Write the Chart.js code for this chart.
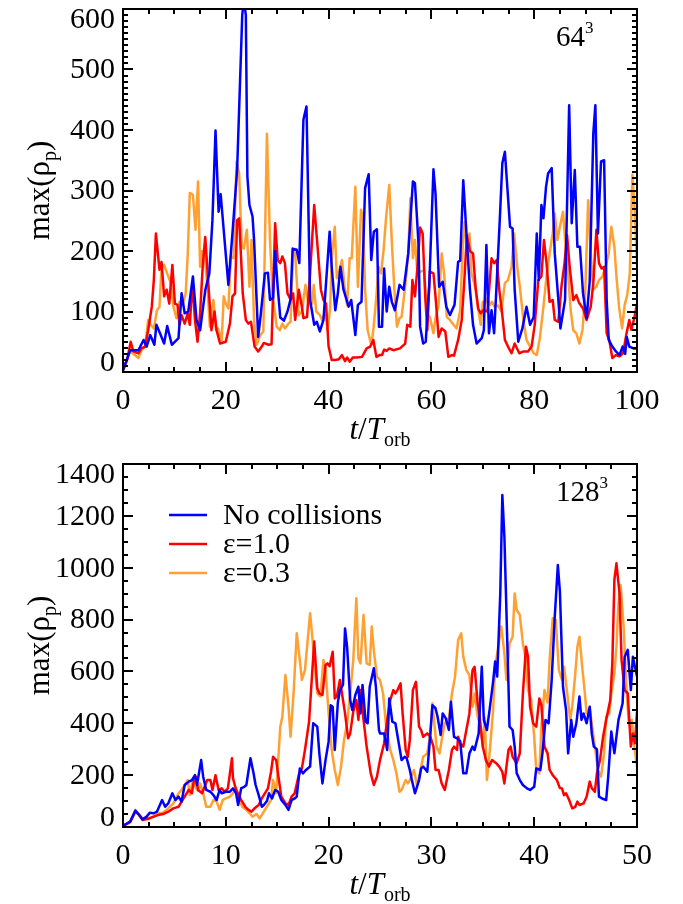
<!DOCTYPE html>
<html>
<head>
<meta charset="utf-8">
<script src="https://cdn.jsdelivr.net/npm/chart.js@4.4.1/dist/chart.umd.min.js"></script>
<style>
  html, body { margin: 0; padding: 0; background: #fff; }
  #wrap { position: relative; width: 683px; height: 904px; }
  .panel { position: absolute; left: 0; width: 683px; height: 452px; }
</style>
</head>
<body>
<div id="wrap">
  <div class="panel" style="top:0"><canvas id="chart64"></canvas></div>
  <div class="panel" style="top:452px"><canvas id="chart128"></canvas></div>
</div>
<script>

// ======================
// DATA  [t/Torb, max(rho_p)]
// ======================

const seriesLabels = ["No collisions", "ε=1.0", "ε=0.3"];

const blue64 = [[0,3],[1.4,36],[3,36],[4,53],[4.6,42],[5.3,61],[6.1,45],[6.5,78],[7.2,64],[8,47],[8.6,76],[9.5,45],[10.8,56],[11.4,130],[12,97],[12.7,100],[13.6,158],[14.3,86],[15,69],[16,135],[16.8,163],[17.4,251],[18,399],[18.6,265],[19,294],[20.5,144],[21.3,230],[22.2,334],[23.2,590],[23.5,615],[23.9,590],[24.2,323],[24.6,276],[25.2,257],[25.5,218],[26.3,58],[26.8,95],[27.6,163],[28.2,164],[28.6,119],[29.2,122],[29.6,200],[30.1,140],[30.6,90],[31.3,85],[32,100],[32.6,120],[33,204],[33.8,202],[34.3,180],[35.1,417],[35.7,439],[36.4,119],[37.2,78],[37.7,83],[38.3,67],[39,86],[40.2,232],[40.6,174],[41.3,102],[41.8,130],[42.3,174],[42.9,136],[43.9,108],[44.4,119],[45.2,61],[45.7,111],[46.4,116],[47.1,304],[47.8,327],[48.3,185],[48.8,232],[49.4,236],[49.8,75],[50.4,75],[50.8,171],[51.3,100],[51.8,141],[52.3,116],[52.9,102],[53.8,144],[54.6,136],[55.5,196],[56.4,315],[56.8,312],[57.5,210],[57.8,75],[58.4,47],[58.9,50],[59.6,147],[60.4,335],[60.8,295],[61.5,141],[62.2,149],[62.9,108],[63.6,94],[64.5,111],[65.2,182],[65.6,184],[66.2,317],[66.7,246],[67.5,136],[68.1,78],[68.8,47],[69.8,56],[70.2,69],[70.7,210],[71.2,64],[71.7,102],[72.2,64],[72.7,147],[73.3,251],[73.8,345],[74.3,364],[75.3,240],[75.8,237],[76.2,136],[76.9,50],[77.7,72],[78.5,108],[79.2,78],[79.9,91],[80.5,229],[80.9,152],[81.4,276],[81.8,254],[82.3,306],[82.7,328],[83.4,337],[84,196],[84.7,119],[85.1,72],[86,119],[86.8,441],[87.3,246],[87.9,334],[88.4,207],[88.9,207],[89.5,130],[90.2,89],[90.8,150],[91.5,394],[91.9,441],[92.4,229],[93,348],[93.6,350],[94.1,119],[94.5,53],[95.2,42],[95.9,34],[96.6,28],[97.2,42],[97.7,30],[98,58],[98.5,42],[99.3,39],[100,39]];

const red64 = [[0,3],[0.8,20],[1.5,50],[2,34],[3,31],[3.6,39],[4.3,42],[4.9,69],[5.6,108],[6,152],[6.4,229],[7.1,169],[7.5,182],[8,125],[8.5,136],[9,113],[9.6,177],[10.1,113],[10.6,111],[11,78],[11.4,94],[12,80],[12.6,97],[13,78],[13.5,149],[14,86],[14.5,50],[15,97],[15.5,174],[16,223],[16.6,147],[17.2,69],[17.8,100],[18.2,69],[18.9,47],[20,50],[20.8,80],[21.3,125],[21.8,130],[22.2,251],[22.6,254],[23.3,130],[23.9,86],[24.4,80],[24.9,83],[25.6,42],[26.3,34],[27,42],[27.4,48],[28.3,45],[28.9,46],[29.6,246],[30.1,185],[30.6,180],[31,191],[31.5,180],[32,130],[32.6,120],[33.1,130],[33.5,86],[34.2,136],[34.8,108],[35.1,89],[35.8,91],[36.4,163],[37.2,276],[37.9,202],[38.5,136],[39,119],[39.5,113],[40,42],[40.6,20],[41.3,20],[42,21],[42.6,28],[43.2,18],[43.6,24],[44.1,17],[44.7,24],[45.5,24],[46.5,25],[47.4,39],[48.1,42],[48.7,53],[49.3,25],[49.9,28],[50.4,28],[50.8,37],[51.3,35],[51.8,39],[52.6,36],[53.9,39],[54.9,47],[55.3,78],[55.9,75],[56.3,152],[56.8,125],[57.3,174],[57.8,239],[58.3,229],[58.8,125],[59.2,69],[59.7,166],[60.4,163],[60.8,125],[61.4,58],[62,72],[62.7,67],[63.3,25],[64,28],[64.4,27],[65.2,53],[65.9,86],[66.4,150],[66.9,226],[67.5,200],[68.1,196],[68.6,140],[69.1,105],[69.6,97],[70.1,102],[70.9,100],[71.7,188],[72.2,180],[72.7,185],[73.2,136],[73.7,102],[74.3,53],[74.9,42],[75.6,31],[76.2,47],[77.1,31],[77.9,34],[78.8,34],[79.5,42],[80.1,78],[80.8,152],[81.4,158],[81.9,218],[82.4,180],[83,116],[83.6,119],[84,86],[84.7,83],[85.3,141],[85.9,180],[86.4,226],[86.9,174],[87.6,119],[88.2,127],[88.7,115],[89.5,105],[90.2,86],[91,108],[91.5,147],[92.1,235],[92.6,180],[93.1,171],[93.6,174],[94.1,64],[94.6,53],[95.2,23],[95.9,28],[96.6,26],[97.3,31],[97.9,61],[98.5,86],[98.9,70],[99.5,90],[100,113]];

const orange64 = [[0,2],[1.4,34],[2.3,28],[3,23],[3.6,36],[4.3,42],[4.9,86],[5.4,78],[6,72],[6.6,102],[7.1,108],[7.5,174],[8,177],[8.8,158],[9.3,147],[9.8,108],[10.4,89],[11,116],[11.6,111],[12.2,130],[12.6,196],[13,296],[13.6,293],[14.1,235],[14.6,315],[15,174],[15.4,200],[15.9,191],[16.4,144],[16.9,75],[17.6,119],[18.1,69],[18.5,72],[19.2,53],[19.6,125],[20,113],[20.5,105],[21,191],[21.5,188],[22.1,348],[22.6,328],[23.1,207],[23.5,204],[24.1,235],[24.6,141],[25,218],[25.5,86],[26,45],[26.7,61],[27.3,67],[28,394],[28.6,218],[29.1,130],[29.9,75],[30.5,69],[31,80],[31.5,72],[32.2,80],[32.6,83],[33.1,202],[33.5,196],[34.2,94],[34.8,100],[35.5,144],[36.1,110],[36.8,113],[37.1,144],[37.6,100],[38.3,94],[38.7,86],[39.4,100],[39.8,69],[40.3,105],[40.6,185],[41.2,240],[41.6,155],[42.1,168],[42.6,185],[43.1,141],[43.6,110],[44.1,188],[44.5,188],[45.2,306],[45.7,141],[46.3,268],[46.7,257],[47.1,136],[47.6,69],[48.3,45],[48.7,69],[49.3,125],[49.7,174],[50.2,163],[50.7,202],[51.2,257],[51.8,309],[52.3,215],[52.8,136],[53.3,75],[53.8,89],[54.2,91],[54.9,141],[55.5,196],[55.9,287],[56.4,188],[56.8,218],[57.3,163],[57.9,166],[58.6,168],[59.1,97],[59.7,91],[60.4,64],[60.8,89],[61.4,110],[62,196],[62.5,160],[63,91],[63.6,86],[64.3,78],[64.9,72],[65.6,102],[66.1,207],[66.5,248],[67,200],[67.4,229],[67.8,163],[68.5,141],[69.1,105],[69.6,78],[70,116],[70.4,113],[70.9,122],[71.4,111],[71.8,116],[72.3,108],[73,110],[73.6,100],[74.3,147],[74.9,152],[75.6,174],[76.1,229],[76.7,174],[77.2,141],[77.9,86],[78.5,53],[79.2,42],[79.9,31],[80.5,28],[81.1,56],[81.8,108],[82.4,158],[83,196],[83.6,229],[84,262],[84.5,218],[85,240],[85.6,265],[86.2,196],[86.6,163],[87.1,102],[87.6,69],[88.2,64],[88.8,47],[89.4,70],[89.9,125],[90.5,284],[91,196],[91.5,136],[92.1,141],[92.6,152],[93.3,158],[93.9,174],[94.5,196],[95,240],[95.6,207],[96,158],[96.5,108],[97.1,72],[97.6,111],[98.1,127],[98.6,163],[99.1,326],[99.6,262],[100,174]];

const blue128 = [[0,4],[0.7,21],[1.2,63],[1.5,50],[1.9,30],[2.3,40],[2.6,55],[3,53],[3.3,59],[3.8,104],[4.1,78],[4.4,91],[4.8,130],[5.1,104],[5.4,117],[5.7,98],[6,162],[6.4,175],[6.7,181],[7,200],[7.2,162],[7.6,258],[7.8,194],[8.1,143],[8.5,136],[8.8,123],[9.1,104],[9.4,143],[9.6,130],[10,136],[10.4,136],[10.7,149],[11,130],[11.2,85],[11.5,150],[11.8,155],[12,162],[12.4,265],[12.7,207],[12.9,162],[13.2,123],[13.5,78],[13.7,85],[14,100],[14.2,130],[14.5,110],[14.8,143],[15.1,136],[15.4,104],[15.8,85],[16.1,66],[16.4,104],[16.7,110],[16.9,117],[17.2,226],[17.5,207],[17.8,220],[18.2,233],[18.5,400],[18.9,387],[19.1,284],[19.4,168],[19.7,258],[20,329],[20.2,470],[20.4,464],[20.6,297],[20.9,480],[21.1,528],[21.4,548],[21.6,766],[21.8,695],[22.1,490],[22.3,451],[22.6,509],[22.9,541],[23.1,438],[23.3,548],[23.6,406],[23.8,400],[24,541],[24.4,612],[24.6,541],[24.9,374],[25,361],[25.4,361],[25.7,297],[25.9,496],[26.2,406],[26.5,400],[26.8,329],[27.1,258],[27.4,271],[27.6,265],[27.9,220],[28.1,181],[28.4,130],[28.8,181],[29,226],[29.2,233],[29.6,213],[29.9,361],[30.1,470],[30.4,458],[30.6,425],[30.9,355],[31.1,438],[31.4,419],[31.7,374],[31.9,483],[32.2,348],[32.5,342],[32.8,330],[33.1,207],[33.4,207],[33.7,284],[34,310],[34.2,297],[34.6,361],[34.9,618],[35.1,413],[35.4,374],[35.7,464],[36,560],[36.2,638],[36.4,580],[36.7,900],[36.9,1280],[37.1,1120],[37.5,541],[37.6,387],[37.9,374],[38.1,310],[38.3,207],[38.6,181],[38.9,162],[39.3,149],[39.6,143],[40,155],[40.2,226],[40.6,220],[40.8,284],[41.1,413],[41.4,400],[41.7,567],[42,811],[42.3,1010],[42.5,908],[42.8,541],[43.1,451],[43.3,284],[43.6,413],[43.8,348],[44.1,400],[44.4,503],[44.6,413],[44.8,438],[45.1,400],[45.4,464],[45.6,360],[45.8,310],[46.1,300],[46.3,117],[46.6,110],[47,104],[47.2,194],[47.5,368],[47.8,284],[48.2,413],[48.6,477],[48.8,657],[49.1,683],[49.4,528],[49.6,657],[50,580]];

const red128 = [[0,4],[0.7,20],[1.2,59],[1.5,50],[1.9,27],[2.5,33],[3,40],[3.4,46],[3.9,50],[4.4,59],[4.9,72],[5.4,78],[5.7,98],[6,117],[6.4,143],[6.7,130],[6.9,181],[7.1,194],[7.3,143],[7.7,130],[8,162],[8.2,181],[8.5,181],[8.7,143],[9,200],[9.3,143],[9.6,149],[9.9,136],[10.2,149],[10.6,265],[10.7,188],[11,143],[11.3,120],[11.5,104],[11.9,78],[12.2,66],[12.5,59],[12.8,72],[13.2,85],[13.5,110],[13.8,130],[14.1,149],[14.4,213],[14.6,271],[14.9,258],[15.1,200],[15.4,117],[15.8,91],[16.1,85],[16.4,117],[16.7,130],[17.1,200],[17.4,226],[17.7,297],[18.1,406],[18.4,593],[18.6,715],[18.9,535],[19.1,515],[19.4,509],[19.7,625],[19.9,631],[20.1,620],[20.4,676],[20.6,496],[20.8,503],[21.1,567],[21.4,490],[21.6,438],[21.9,342],[22.1,361],[22.4,445],[22.7,490],[22.9,413],[23.1,528],[23.4,413],[23.7,310],[24.1,207],[24.4,162],[24.7,194],[25,258],[25.4,323],[25.7,413],[26,490],[26.3,528],[26.5,515],[26.7,528],[27,554],[27.2,438],[27.5,297],[27.7,271],[27.9,335],[28.2,528],[28.5,560],[28.8,387],[29,374],[29.2,348],[29.6,361],[29.9,348],[30.2,310],[30.4,220],[30.7,220],[31,168],[31.3,143],[31.7,220],[32,297],[32.2,310],[32.5,297],[32.6,348],[32.8,323],[33.1,310],[33.4,374],[33.7,438],[34,605],[34.2,618],[34.5,477],[34.7,425],[35,310],[35.3,258],[35.6,233],[35.9,258],[36.3,246],[36.6,233],[36.9,213],[37.1,168],[37.5,297],[37.7,310],[37.9,271],[38.3,246],[38.6,284],[38.9,515],[39.2,695],[39.4,657],[39.6,464],[39.9,400],[40.2,387],[40.5,496],[40.7,470],[41,310],[41.3,284],[41.5,220],[41.8,200],[42.2,181],[42.5,150],[42.7,149],[42.9,123],[43.1,130],[43.4,104],[43.7,72],[44,78],[44.2,98],[44.4,85],[44.8,91],[45.1,117],[45.4,175],[45.6,150],[45.9,136],[46.1,207],[46.4,258],[46.7,348],[47,413],[47.4,490],[47.6,631],[47.8,953],[48,1017],[48.3,901],[48.5,644],[48.8,528],[49.1,515],[49.4,310],[49.6,361],[49.8,323],[50,445]];

const orange128 = [[0,4],[0.7,18],[1.2,66],[1.5,50],[1.9,33],[2.5,30],[3,42],[3.4,53],[3.9,55],[4.4,72],[4.9,91],[5.4,130],[5.7,143],[6,162],[6.3,181],[6.5,123],[6.8,181],[7.1,150],[7.3,140],[7.5,168],[7.8,130],[8.1,78],[8.5,78],[8.8,104],[9.1,100],[9.4,66],[9.7,104],[10,110],[10.4,117],[10.7,130],[11,149],[11.3,104],[11.6,78],[12,66],[12.3,53],[12.6,40],[13,50],[13.3,33],[13.7,59],[14,78],[14.4,104],[14.6,181],[14.9,130],[15.3,387],[15.5,425],[15.8,586],[16.1,464],[16.3,348],[16.6,520],[16.9,747],[17.2,644],[17.4,567],[17.7,605],[18.2,824],[18.4,740],[18.7,600],[18.9,515],[19.2,503],[19.5,644],[19.7,612],[20,438],[20.3,297],[20.6,220],[20.9,162],[21.2,230],[21.5,335],[21.8,400],[22.1,515],[22.4,644],[22.7,882],[22.9,650],[23.1,631],[23.4,818],[23.7,631],[24,625],[24.2,773],[24.4,680],[24.7,580],[25,567],[25.3,515],[25.6,387],[26,297],[26.3,258],[26.6,207],[26.9,136],[27.1,143],[27.5,181],[27.7,168],[27.9,181],[28.3,220],[28.6,160],[28.9,210],[29.2,271],[29.6,284],[29.9,361],[30.1,477],[30.5,310],[30.8,284],[31,335],[31.3,400],[31.7,419],[32,515],[32.3,580],[32.6,721],[32.9,747],[33.1,657],[33.4,605],[33.7,586],[34,464],[34.2,515],[34.5,425],[34.7,400],[35,310],[35.2,420],[35.4,181],[35.7,300],[36,450],[36.2,618],[36.5,695],[36.8,773],[37.1,670],[37.3,567],[37.6,708],[37.9,734],[38.1,901],[38.3,837],[38.6,818],[38.9,708],[39.2,644],[39.4,528],[39.7,490],[40,348],[40.2,220],[40.5,207],[40.7,387],[41,528],[41.3,480],[41.5,644],[41.8,805],[42.1,798],[42.4,605],[42.7,567],[42.9,618],[43.2,520],[43.5,413],[43.7,464],[44,593],[44.2,695],[44.4,734],[44.7,605],[44.9,528],[45.1,438],[45.4,458],[45.6,400],[45.9,310],[46.2,220],[46.5,194],[46.8,284],[47,425],[47.3,438],[47.5,515],[47.8,593],[48,695],[48.2,863],[48.4,933],[48.7,773],[49,515],[49.2,400],[49.5,413],[49.7,323],[50,233]];


// ======================
// STYLE
// ======================

const colBlue = "#0000ff";
const colRed = "#ff0000";
const colOrange = "#ffa033";
const serif = '"Liberation Serif", "Times New Roman", serif';


// ======================
// HELPERS
// ======================

function toPoints(pairs) {
  return pairs.map(p => ({ x: p[0], y: p[1] }));
}

function drawRich(ctx, parts, x, y, align) {

  let total = 0;

  parts.forEach(p => {
    ctx.font = (p.italic ? "italic " : "") + p.size + "px " + serif;
    p.w = ctx.measureText(p.t).width;
    total += p.w;
  });

  let cx = align === "center" ? x - total / 2 : x;

  parts.forEach(p => {
    ctx.font = (p.italic ? "italic " : "") + p.size + "px " + serif;
    ctx.fillText(p.t, cx, y + (p.dy || 0));
    cx += p.w;
  });

}


// ======================
// IDL STYLE AXES PLUGIN
// ======================

const idlAxes = {

  id: "idlAxes",

  afterDraw(chart, args, opts) {

    const ctx = chart.ctx;
    const a = chart.chartArea;
    const xs = chart.scales.x;
    const ys = chart.scales.y;

    ctx.save();
    ctx.strokeStyle = "#000";
    ctx.fillStyle = "#000";
    ctx.lineWidth = 2;

    // frame
    ctx.strokeRect(a.left, a.top, a.right - a.left, a.bottom - a.top);

    // ticks pointing inward on all sides
    ctx.beginPath();

    const nx = Math.round((xs.max - xs.min) / opts.xMinor);
    for (let i = 0; i <= nx; i++) {
      const v = xs.min + i * opts.xMinor;
      const px = Math.round(xs.getPixelForValue(v));
      const major = Math.abs(v / opts.xMajor - Math.round(v / opts.xMajor)) < 1e-6;
      const len = major ? 10 : 5;
      ctx.moveTo(px, a.bottom);
      ctx.lineTo(px, a.bottom - len);
      ctx.moveTo(px, a.top);
      ctx.lineTo(px, a.top + len);
    }

    const ny = Math.round((ys.max - ys.min) / opts.yMinor);
    for (let i = 0; i <= ny; i++) {
      const v = ys.min + i * opts.yMinor;
      const py = Math.round(ys.getPixelForValue(v));
      const major = Math.abs(v / opts.yMajor - Math.round(v / opts.yMajor)) < 1e-6;
      const len = major ? 10 : 5;
      ctx.moveTo(a.left, py);
      ctx.lineTo(a.left + len, py);
      ctx.moveTo(a.right, py);
      ctx.lineTo(a.right - len, py);
    }

    ctx.stroke();

    // y tick labels (end labels kept inside the axis range)
    ctx.font = "30px " + serif;
    ctx.textAlign = "right";
    ctx.textBaseline = "middle";
    const half = 10;
    ys.ticks.forEach(t => {
      let py = ys.getPixelForValue(t.value);
      py = Math.min(Math.max(py, a.top + half), a.bottom - half);
      ctx.fillText(String(t.value), a.left - 8, py + 1);
    });

    ctx.textAlign = "left";
    ctx.textBaseline = "alphabetic";

    // x title
    drawRich(ctx, [
      { t: "t", size: 31, italic: true },
      { t: "/", size: 31 },
      { t: "T", size: 31, italic: true },
      { t: "orb", size: 20, dy: 7 }
    ], (a.left + a.right) / 2, a.bottom + 67, "center");

    // y title
    ctx.save();
    ctx.translate(49, (a.top + a.bottom) / 2);
    ctx.rotate(-Math.PI / 2);
    drawRich(ctx, [
      { t: "max(ρ", size: 31 },
      { t: "p", size: 20, dy: 7 },
      { t: ")", size: 31 }
    ], 0, 0, "center");
    ctx.restore();

    // resolution label
    drawRich(ctx, [
      { t: opts.res, size: 29 },
      { t: "3", size: 17, dy: -13 }
    ], opts.resX, a.top + 37, "left");

    // legend
    if (opts.legend) {
      chart.data.datasets.forEach((ds, i) => {
        const y = a.top + 51 + i * 29;
        ctx.strokeStyle = ds.borderColor;
        ctx.lineWidth = 2.5;
        ctx.beginPath();
        ctx.moveTo(a.left + 46, y);
        ctx.lineTo(a.left + 84, y);
        ctx.stroke();
        ctx.fillStyle = "#000";
        ctx.font = "30px " + serif;
        ctx.textBaseline = "middle";
        ctx.fillText(ds.label, a.left + 100, y + 1);
      });
    }

    ctx.restore();

  }

};


// ======================
// BUILD CHART
// ======================

function buildChart(canvasId, blue, red, orange, cfg) {

  const canvas = document.getElementById(canvasId);

  const mk = (label, pairs, color) => ({
    label,
    data: toPoints(pairs),
    borderColor: color,
    borderWidth: 2.5,
    borderJoinStyle: "round",
    pointRadius: 0,
    tension: 0,
    fill: false
  });

  return new Chart(canvas, {

    type: "line",

    data: {
      datasets: [
        mk(seriesLabels[0], blue, colBlue),
        mk(seriesLabels[1], red, colRed),
        mk(seriesLabels[2], orange, colOrange)
      ]
    },

    options: {
      responsive: true,
      maintainAspectRatio: false,
      animation: false,
      devicePixelRatio: 1,
      layout: { padding: { top: cfg.top, right: 46, left: 0, bottom: 0 } },
      plugins: {
        legend: { display: false },
        tooltip: { enabled: false },
        idlAxes: cfg.axes
      },
      scales: {
        x: {
          type: "linear",
          min: 0,
          max: cfg.xMax,
          grid: { display: false, drawTicks: false },
          border: { display: false },
          ticks: {
            stepSize: cfg.xStep,
            color: "#000",
            padding: 11,
            maxRotation: 0,
            autoSkip: false,
            font: { family: serif, size: 30 }
          },
          afterFit: s => {
            s.height = cfg.xAxisH;
            s.paddingLeft = 0;
            s.paddingRight = 0;
          }
        },
        y: {
          type: "linear",
          min: 0,
          max: cfg.yMax,
          grid: { display: false, drawTicks: false },
          border: { display: false },
          ticks: { stepSize: cfg.yStep, display: false },
          afterFit: s => {
            s.width = 123;
            s.paddingTop = 0;
            s.paddingBottom = 0;
          }
        }
      }
    },

    plugins: [idlAxes]

  });

}


// ======================
// MAIN RENDER
// ======================

buildChart("chart64", blue64, red64, orange64, {
  top: 9, xAxisH: 80, xMax: 100, xStep: 20, yMax: 600, yStep: 100,
  axes: { xMinor: 5, xMajor: 20, yMinor: 10, yMajor: 100, res: "64", resX: 556, legend: false }
});

buildChart("chart128", blue128, red128, orange128, {
  top: 12, xAxisH: 77, xMax: 50, xStep: 10, yMax: 1400, yStep: 200,
  axes: { xMinor: 2.5, xMajor: 10, yMinor: 50, yMajor: 200, res: "128", resX: 556, legend: true }
});

</script>
</body>
</html>
